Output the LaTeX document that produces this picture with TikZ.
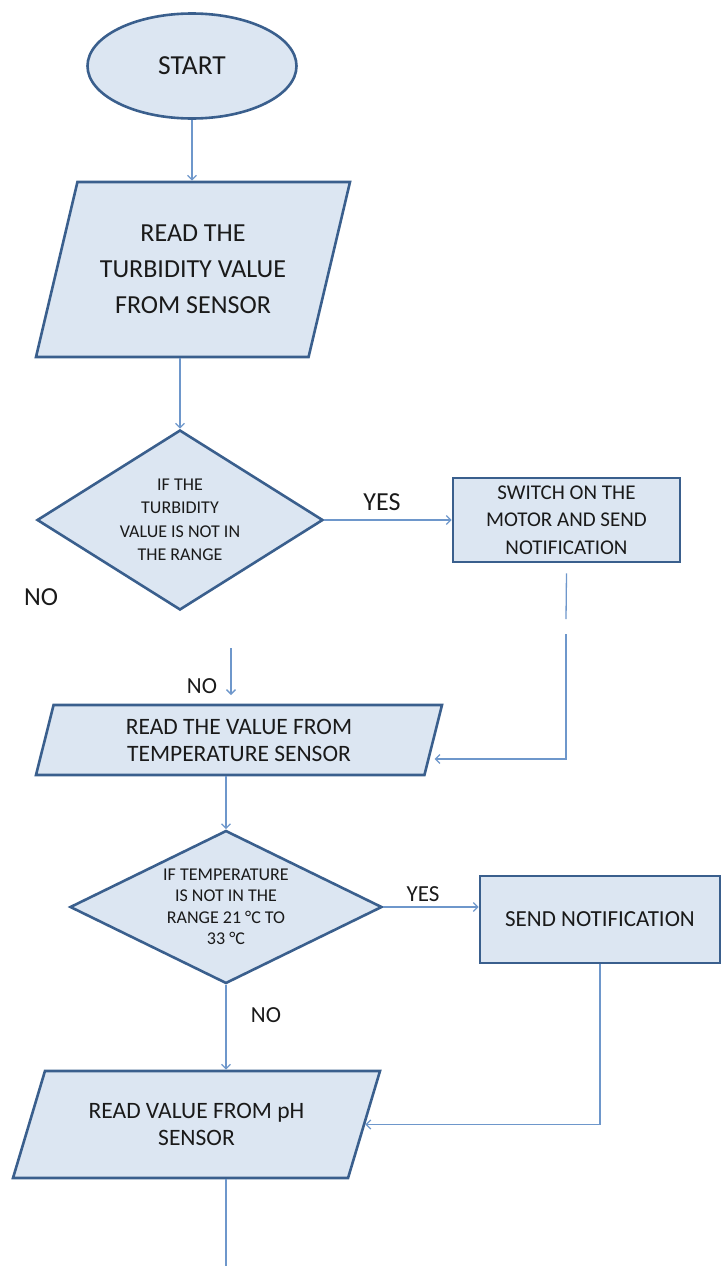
\documentclass[tikz,border=0pt]{standalone}
\usepackage{xcolor}
\usepackage{fontspec}
\setmainfont{Carlito}
\usepackage{tikz}
\usetikzlibrary{shapes.geometric, arrows.meta, positioning, calc}

\definecolor{boxfill}{HTML}{DCE6F2}
\definecolor{boxline}{HTML}{3A5F8D}
\definecolor{linkcol}{HTML}{6E97CB}
\definecolor{txtcol}{HTML}{1A1A1A}
\newcommand{\fsz}[2]{\fontsize{#1}{#2}\selectfont}

\begin{document}
\begin{tikzpicture}[x=1pt, y=-1pt,
	every node/.style={text=txtcol},
	shapebox/.style={draw=boxline, line width=2.6pt, fill=boxfill, inner sep=0pt, align=center},
	terminal/.style={shapebox, ellipse},
	io/.style={shapebox, trapezium, trapezium stretches body},
	decision/.style={shapebox, diamond},
	process/.style={shapebox, rectangle},
	dtext/.style={inner sep=0pt, align=center},
	lbl/.style={inner sep=0pt},
	link/.style={draw=linkcol, line width=1.3pt},
	arrow/.style={link, -{Straight Barb[length=4.5pt,width=9pt]}}]
	
	\useasboundingbox (0,0) rectangle (728,1266);
	
	%// shapes
	\node [terminal, minimum width=209pt, minimum height=105pt, font=\fsz{27.5}{30}] (start) at (192,66) {START};
	
	\node [io, trapezium left angle=65, trapezium right angle=115, minimum width=314pt, minimum height=175pt, font=\fsz{26}{36}] (turbread) at (193,269.5) {READ THE\\TURBIDITY VALUE\\FROM SENSOR};
	
	\node [decision, minimum width=286pt, minimum height=180pt] (dia1) at (180,520) {};
	\node [dtext, font=\fsz{18}{23.5}] (dia1txt) at (dia1) {IF THE\\TURBIDITY\\VALUE IS NOT IN\\THE RANGE};
	
	\node [process, minimum width=227pt, minimum height=84pt, font=\fsz{21}{27.5}] (motor) at (566.5,520) {SWITCH ON THE\\MOTOR AND SEND\\NOTIFICATION};
	
	\node [io, trapezium left angle=67.5, trapezium right angle=112.5, minimum width=406pt, minimum height=70pt, font=\fsz{23.5}{27}] (tempread) at (239,740) {READ THE VALUE FROM\\TEMPERATURE SENSOR};
	
	\node [decision, minimum width=312pt, minimum height=153pt] (dia2) at (226,907) {};
	\node [dtext, font=\fsz{18}{21.5}] (dia2txt) at (dia2) {IF TEMPERATURE\\IS NOT IN THE\\RANGE 21 °C TO\\33 °C};
	
	\node [process, minimum width=240pt, minimum height=87pt, font=\fsz{23}{25}] (notify) at (600,919.5) {SEND NOTIFICATION};
	
	\node [io, trapezium left angle=53, trapezium right angle=127, minimum width=367pt, minimum height=107pt, font=\fsz{23.5}{27}] (phread) at (196.5,1124.5) {READ VALUE FROM pH\\SENSOR};
	
	%// labels
	\node [lbl, font=\fsz{26}{28}] (yes1) at (382,502) {YES};
	\node [lbl, font=\fsz{26}{28}] (no1) at (41,597) {NO};
	\node [lbl, font=\fsz{23}{25}] (no2) at (202,686) {NO};
	\node [lbl, font=\fsz{23}{25}] (yes2) at (423,894) {YES};
	\node [lbl, font=\fsz{23}{25}] (no3) at (266,1015) {NO};
	
	\coordinate (gapA) at (566,619);
	\coordinate (gapB) at (566,634);
	\coordinate (noTop) at (231,648);
	\coordinate (noEnd) at (231,695);
	\coordinate (endPt) at (226,1266);
	
	%// connectors
	\draw [arrow] (start.south) -- (start.south |- turbread.north);
	\draw [arrow] (turbread.south -| dia1.north) -- (dia1.north);
	\draw [arrow] (dia1.east) -- (motor.west);
	\draw [link] ([yshift=-10pt]motor.south) -- (gapA);
	\draw [arrow] (gapB) |- ([yshift=-19pt]tempread.east);
	\draw [arrow] (noTop) -- (noEnd);
	\draw [arrow] (tempread.south -| dia2.north) -- (dia2.north);
	\draw [arrow] (dia2.east) -- (dia2.east -| notify.west);
	\draw [arrow] (dia2.south) -- (dia2.south |- phread.north);
	\draw [arrow] (notify.south) |- (phread.east);
	\draw [link] (phread.south -| dia2.south) -- (endPt);
\end{tikzpicture}
\end{document}
